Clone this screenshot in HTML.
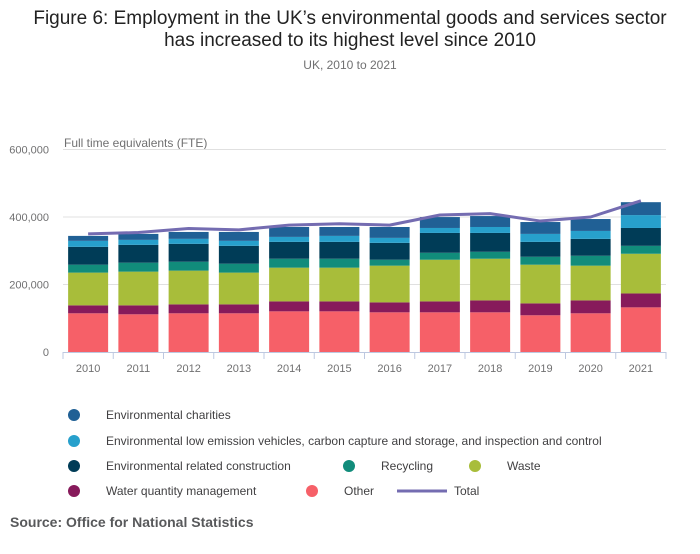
<!DOCTYPE html>
<html><head><meta charset="utf-8"><style>
body{margin:0;background:#fff;}
svg text{font-family:"Liberation Sans",sans-serif;}
</style></head><body>
<svg width="700" height="549" xmlns="http://www.w3.org/2000/svg" id="chart">
<text x="350" y="24" text-anchor="middle" font-size="19" fill="#222">Figure 6: Employment in the UK’s environmental goods and services sector</text>
<text x="350" y="46" text-anchor="middle" font-size="19" fill="#222">has increased to its highest level since 2010</text>
<text x="350" y="69" text-anchor="middle" font-size="12" fill="#707071">UK, 2010 to 2021</text>
<text x="64" y="147" font-size="12" fill="#707071">Full time equivalents (FTE)</text>
<g id="grid"></g><g id="bars"></g><g id="line"></g><g id="axes"></g>
<g id="legend"></g>
<text x="10" y="527" font-size="14" font-weight="bold" fill="#58595b">Source: Office for National Statistics</text>
</svg>
<script>
const years=["2010","2011","2012","2013","2014","2015","2016","2017","2018","2019","2020","2021"];
const other=[114.7,111.7,114.7,114.7,120.5,120.5,117.6,117.6,117.6,108.8,114.7,132.3];
const water=[23.5,26.5,26.4,26.4,29.4,29.4,29.4,32.3,35.3,35.3,38.2,41.2];
const waste=[97,99.9,100,94.1,100,100,108.8,123.5,123.5,114.6,102.9,117.6];
const recycling=[23.5,26.5,26.4,26.5,26.5,26.5,17.6,20.6,20.5,23.5,29.4,23.5];
const construction=[52.9,52.9,53,52.9,49.9,49.9,50,58.8,55.9,44.1,50,52.9];
const lowEmission=[17.7,14.7,14.7,14.7,14.7,17.7,14.7,14.7,17.6,23.6,23.5,38.2];
const charities=[14.7,17.7,20.5,26.4,29.4,26.4,32.3,32.3,32.4,35.2,35.3,38.2];
const total=[350,354,366,362,376,380,376,406,410,388,400,448];
const yTicks=[0,200000,400000,600000];
const yTickLabels=["0","200,000","400,000","600,000"];

const NS="http://www.w3.org/2000/svg";
const x0=63,x1=666,bw=40,pitch=(x1-x0)/years.length;
function xc(i){return x0+pitch*(i+0.5);}
function y(v){return 352-v/600000*(352-149.5);}
function mk(t,a,p){const e=document.createElementNS(NS,t);for(const k in a)e.setAttribute(k,a[k]);document.getElementById(p).appendChild(e);return e;}

yTicks.forEach((t,i)=>{
 if(t>0){const g=mk('line',{x1:x0,x2:x1,y1:y(t),y2:y(t),stroke:'#e0e0e0','stroke-width':1},'grid');
 
 }
 const l=mk('text',{x:49,y:y(t)+4,'text-anchor':'end','font-size':11,fill:'#707071'},'axes');l.textContent=yTickLabels[i];
 
 
});
const series=[[other,'#f66068','other'],[water,'#871a5b','water'],[waste,'#a8bd3a','waste'],[recycling,'#118c7b','recycling'],[construction,'#003c57','construction'],[lowEmission,'#27a0cc','low-emission'],[charities,'#206095','charities']];
years.forEach((yr,i)=>{
 let cum=0;
 series.forEach(s=>{
  const v=s[0][i]*1000;
  const r=mk('rect',{x:xc(i)-bw/2,y:y(cum+v),width:bw,height:y(cum)-y(cum+v),fill:s[1]},'bars');
  
  
  cum+=v;
 });
 const t=mk('text',{x:xc(i),y:372,'text-anchor':'middle','font-size':11,fill:'#707071'},'axes');t.textContent=yr;
 
 
});
const ax=mk('line',{x1:x0,x2:x1,y1:352.5,y2:352.5,stroke:'#bdc8e0','stroke-width':1},'axes');


for(let i=0;i<=years.length;i++){const tk=mk('line',{x1:x0+pitch*i,x2:x0+pitch*i,y1:352,y2:359,stroke:'#bdc8e0'},'axes');
 
 }
const pl=mk('polyline',{points:total.map((v,i)=>xc(i)+','+y(v*1000)).join(' '),fill:'none',stroke:'#746cb1','stroke-width':3,'stroke-linejoin':'round'},'line');



const leg=[[74,415,'#206095','Environmental charities'],[74,441,'#27a0cc','Environmental low emission vehicles, carbon capture and storage, and inspection and control'],[74,466,'#003c57','Environmental related construction'],[349,466,'#118c7b','Recycling'],[475,466,'#a8bd3a','Waste'],[74,491,'#871a5b','Water quantity management'],[312,491,'#f66068','Other']];
leg.forEach(l=>{
 const c=mk('circle',{cx:l[0],cy:l[1],r:6,fill:l[2]},'legend');
 
 
 const t=mk('text',{x:l[0]+32,y:l[1]+4,'font-size':12,fill:'#414042'},'legend');t.textContent=l[3];
 
 
});
const ll=mk('line',{x1:397,x2:447,y1:491,y2:491,stroke:'#746cb1','stroke-width':3},'legend');


const lt=mk('text',{x:454,y:495,'font-size':12,fill:'#414042'},'legend');lt.textContent='Total';


</script>
</body></html>
